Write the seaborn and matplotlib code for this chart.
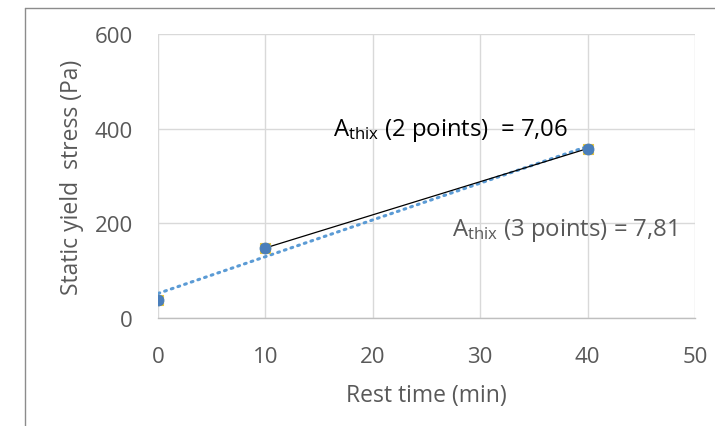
import numpy as np
import pandas as pd
import matplotlib
matplotlib.use("Agg")
import matplotlib.pyplot as plt
import seaborn as sns

# Data
rest_time = [0, 10, 40]
yield_stress = [38, 148, 358]
two_pt_time = [10, 40]
two_pt_stress = [148, 358]
x_ticks = [0, 10, 20, 30, 40, 50]
y_ticks = [0, 200, 400, 600]
label_2pts = "7,06"
label_3pts = "7,81"

sns.set_theme(style="white")
plt.rcParams['font.family'] = ['Open Sans', 'DejaVu Sans']
plt.rcParams['mathtext.fontset'] = 'custom'
plt.rcParams['mathtext.rm'] = 'Open Sans'
plt.rcParams['mathtext.it'] = 'Open Sans'

df = pd.DataFrame({"t": rest_time, "s": yield_stress})
df2 = pd.DataFrame({"t": two_pt_time, "s": two_pt_stress})

fig = plt.figure(figsize=(7.15, 4.27), dpi=100)
ax = fig.add_axes([158/715, 1-319/427, (695-158)/715, (319-35)/427])

grey = "#595959"
# trendline through 3 points
sns.regplot(data=df, x="t", y="s", ci=None, scatter=False, ax=ax,
            line_kws=dict(color="#5B9BD5", lw=2.2, ls=(0, (0.6, 1.7)),
                          dash_capstyle="round", zorder=3))
# 2-point line
sns.lineplot(data=df2, x="t", y="s", ax=ax, color="black", lw=0.9, zorder=4)
# underlying markers
sns.scatterplot(data=df, x="t", y="s", ax=ax, marker="s", s=50,
                color="#7E9A3A", edgecolor="#E8C640", linewidth=0.8, zorder=5)
sns.scatterplot(data=df, x="t", y="s", ax=ax, marker="o", s=62,
                color="#4A7EBB", edgecolor="#4A7EBB", zorder=6)

ax.set_xlim(0, 50)
ax.set_ylim(0, 600)
ax.set_xticks(x_ticks)
ax.set_yticks(y_ticks)
ax.grid(True, color="#D9D9D9", lw=1.0)
ax.set_axisbelow(True)
for side in ["left", "right", "top"]:
    ax.spines[side].set_visible(False)
ax.spines["bottom"].set_color("#BFBFBF")
ax.spines["bottom"].set_linewidth(1.0)
ax.tick_params(axis="both", colors=grey, labelsize=16, length=0)
ax.tick_params(axis="y", pad=18)
ax.tick_params(axis="x", pad=20)
ax.set_xlabel("Rest time (min)", color=grey, fontsize=16.5, labelpad=12)
ax.set_ylabel("Static yield  stress (Pa)", color=grey, fontsize=16.5, labelpad=8)

ax.text(333/715, 1-130/427, r"A$_{\mathrm{thix}}$ (2 points)  = " + label_2pts,
        transform=fig.transFigure, color="black", fontsize=17.2,
        va="center", ha="left")
ax.text(452/715, 1-230/427, r"A$_{\mathrm{thix}}$ (3 points) = " + label_3pts,
        transform=fig.transFigure, color=grey, fontsize=17.2,
        va="center", ha="left")

# chart area border (partially cropped)
fig.add_artist(plt.Line2D([25/715, 25/715], [0, 1-9/427], color="#8C8C8C",
                          lw=1, transform=fig.transFigure))
fig.add_artist(plt.Line2D([25/715, 1], [1-9/427, 1-9/427], color="#8C8C8C",
                          lw=1, transform=fig.transFigure))

fig.savefig("out.png", dpi=100)
